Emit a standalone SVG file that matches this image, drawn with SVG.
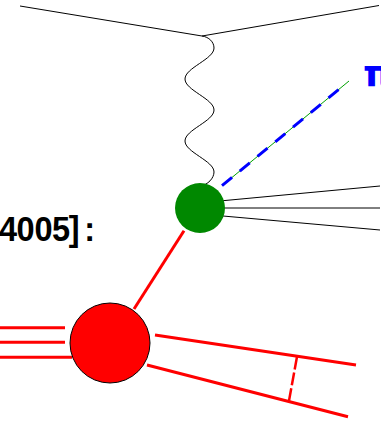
<svg xmlns="http://www.w3.org/2000/svg" width="381" height="423" viewBox="0 0 381 423">
<style>
.thin{fill:none;stroke:#000;stroke-width:1}
.red{fill:none;stroke:#ff0000;stroke-width:3}
.lbl{font-family:"Liberation Sans",Arial,sans-serif;font-weight:bold}
.pi{font-family:"DejaVu Sans",sans-serif;font-weight:bold}
</style>
<rect width="381" height="423" fill="#fff"/>
<g id="connectors">
<path class="thin" d="M20,6 L202,36 L379,5.5"/>
<path id="photon" class="thin" d="M202,36 C209,37 214,42 214,48 C214,53.59 207.1,58.32 199.5,63.5 C191.9,68.68 185,73.41 185,79 C185,84.59 191.9,89.32 199.5,94.5 C207.1,99.68 214,104.41 214,110 C214,115.59 207.1,120.32 199.5,125.5 C191.9,130.68 185,135.41 185,141 C185,146.59 191.9,151.32 199.5,156.5 C207.1,161.68 214,166.41 214,172 C214,178 208,185 200,186"/>
<line x1="222" y1="185.7" x2="349" y2="81" stroke="#00a000" stroke-width="1"/>
<line x1="222" y1="185.7" x2="343" y2="86" stroke="#0000ff" stroke-width="3" stroke-dasharray="13 10"/>
<path class="thin" d="M223,200.7 L380,186 M223,208 L380,208 M223,216 L380,230"/>
<line class="red" x1="184" y1="230.7" x2="134" y2="309"/>
<path class="red" d="M0,327.7 L65,327.7 M0,342.3 L65,342.3 M0,357.3 L72,357.3"/>
<path class="red" d="M155,335 L356,365 M147,365 L348,416.7"/>
<line x1="297" y1="356.7" x2="289" y2="400.7" stroke="#ff0000" stroke-width="2.5" stroke-dasharray="13 3"/>
</g>
<g id="green-blob"><circle cx="200" cy="208" r="25" fill="#008800"/></g>
<g id="red-blob"><circle cx="110" cy="343" r="40" fill="#ff0000" stroke="#000" stroke-width="1"/></g>
<g id="pion-label"><text class="pi" x="363" y="86" font-size="38" fill="#0000ff">π</text></g>
<g id="left-label"><text class="lbl" transform="scale(0.93,1)" x="-1.1 17.7 37.1 55.9 74 90.5" y="241" font-size="35" fill="#000">4005]:</text></g>
</svg>
